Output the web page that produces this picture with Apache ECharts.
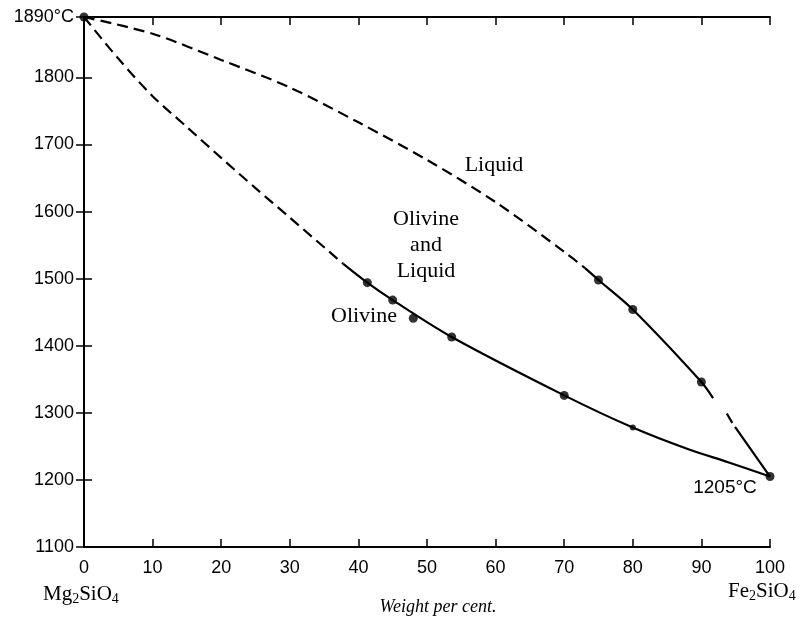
<!DOCTYPE html>
<html>
<head>
<meta charset="utf-8">
<script src="https://cdn.jsdelivr.net/npm/echarts@6/dist/echarts.min.js"></script>
<style>
html,body{margin:0;padding:0;background:#fff;}
#chart{width:807px;height:622px;}
</style>
</head>
<body>
<div id="chart"></div>
<script>
// ---- data (weight per cent Fe2SiO4, temperature °C) ----
const xTicks = [0, 10, 20, 30, 40, 50, 60, 70, 80, 90, 100];
const yTicks = [1100, 1200, 1300, 1400, 1500, 1600, 1700, 1800];
const meltMg2SiO4 = 1890;
const meltFe2SiO4 = 1205;

// liquidus (upper curve)
const liquidusDashedA = [[0, 1890], [10, 1865], [20, 1826], [30, 1785], [40, 1733], [50, 1677], [60, 1614], [70, 1540], [73, 1516]];
const liquidusSolidA = [[73, 1516], [75, 1498], [80, 1454], [90, 1346], [91.7, 1322]];
const liquidusDash = [[93.7, 1299], [94.5, 1285]];
const liquidusSolidB = [[94.9, 1279], [100, 1205]];

// solidus (lower curve)
const solidusDashed = [[0, 1890], [5, 1828], [10, 1772], [15, 1726], [20, 1680], [25, 1635], [30, 1591], [37.8, 1522]];
const solidusSolid = [[37.8, 1522], [41.3, 1494], [45, 1468], [53.6, 1413], [70, 1326], [80, 1278], [88, 1246], [94, 1226], [100, 1205]];

// measured points
const olivinePoints = [[41.3, 1494], [45, 1468], [48, 1441], [53.6, 1413], [70, 1326]];
const olivineSmallPoints = [[80, 1278]];
const liquidPoints = [[75, 1498], [80, 1454], [90, 1346]];
const endPoints = [[0, meltMg2SiO4], [100, meltFe2SiO4]];

const serif = '"Liberation Serif", "DejaVu Serif", serif';
const sans = '"Liberation Sans", Arial, sans-serif';

const chart = echarts.init(document.getElementById('chart'), null, {renderer: 'canvas'});

const axisLine = {show: true, lineStyle: {color: '#000', width: 2}};
const axisTick = {show: true, inside: true, length: 8, lineStyle: {color: '#000', width: 1.5}};

function lineSeries(data, dashed) {
  return {
    type: 'line', data: data, smooth: 0.3, symbol: 'none', silent: true,
    xAxisIndex: 0, yAxisIndex: 0,
    lineStyle: {color: '#000', width: 2.2, type: dashed ? [11, 6] : 'solid'},
    z: 3
  };
}
function pointSeries(data, size) {
  return {
    type: 'scatter', data: data, symbol: 'circle', symbolSize: size,
    xAxisIndex: 0, yAxisIndex: 0,
    itemStyle: {color: '#000'}, z: 5, silent: true
  };
}

const sub = {fontFamily: serif, fontSize: 14, lineHeight: 12, verticalAlign: 'bottom', fill: '#000', color: '#000'};
const main = {fontFamily: serif, fontSize: 21, lineHeight: 24, fill: '#000', color: '#000'};

chart.setOption({
  animation: false,
  backgroundColor: '#fff',
  grid: {left: 84, right: 37, top: 17, bottom: 75, containLabel: false},
  xAxis: [
    {
      type: 'value', min: 0, max: 100, interval: 10, position: 'bottom',
      axisLine: axisLine, axisTick: axisTick, splitLine: {show: false},
      axisLabel: {color: '#000', fontFamily: sans, fontSize: 18, margin: 12}
    },
    {
      type: 'value', min: 0, max: 100, interval: 10, position: 'top',
      axisLine: axisLine, axisTick: axisTick, splitLine: {show: false},
      axisLabel: {show: false}
    }
  ],
  yAxis: [
    {
      type: 'value', min: 1100, max: meltMg2SiO4, interval: 100, position: 'left',
      axisLine: axisLine, axisTick: axisTick, splitLine: {show: false},
      axisLabel: {
        color: '#000', fontFamily: sans, fontSize: 18, margin: 10,
        showMaxLabel: true,
        formatter: function (v) { return v === meltMg2SiO4 ? v + '°C' : String(v); }
      }
    },
    {
      type: 'value', min: 1100, max: meltMg2SiO4, interval: 100, position: 'right',
      axisLine: axisLine, axisTick: axisTick, splitLine: {show: false},
      axisLabel: {show: false}
    }
  ],
  series: [
    lineSeries(liquidusDashedA, true),
    lineSeries(liquidusSolidA, false),
    lineSeries(liquidusDash, false),
    lineSeries(liquidusSolidB, false),
    lineSeries(solidusDashed, true),
    lineSeries(solidusSolid, false),
    pointSeries(olivinePoints, 9),
    pointSeries(olivineSmallPoints, 6),
    pointSeries(liquidPoints, 9),
    pointSeries(endPoints, 9)
  ],
  graphic: [
    {type: 'text', x: 494, y: 165, style: {text: 'Liquid', font: '22px ' + serif, fill: '#000', textAlign: 'center', textVerticalAlign: 'middle'}},
    {type: 'text', x: 426, y: 245, style: {text: 'Olivine\nand\nLiquid', font: '22px ' + serif, lineHeight: 26, fill: '#000', textAlign: 'center', textVerticalAlign: 'middle'}},
    {type: 'text', x: 364, y: 316, style: {text: 'Olivine', font: '22px ' + serif, fill: '#000', textAlign: 'center', textVerticalAlign: 'middle'}},
    {type: 'text', x: 725, y: 488, style: {text: meltFe2SiO4 + '°C', font: '19px ' + sans, fill: '#000', textAlign: 'center', textVerticalAlign: 'middle'}},
    {type: 'text', x: 43, y: 594, style: {text: '{a|Mg}{s|2}{a|SiO}{s|4}', rich: {a: main, s: sub}, textAlign: 'left', textVerticalAlign: 'middle'}},
    {type: 'text', x: 728, y: 591, style: {text: '{a|Fe}{s|2}{a|SiO}{s|4}', rich: {a: main, s: sub}, textAlign: 'left', textVerticalAlign: 'middle'}},
    {type: 'text', x: 438, y: 607, style: {text: 'Weight per cent.', font: 'italic 18px ' + serif, fill: '#000', textAlign: 'center', textVerticalAlign: 'middle'}}
  ]
});
</script>
</body>
</html>
